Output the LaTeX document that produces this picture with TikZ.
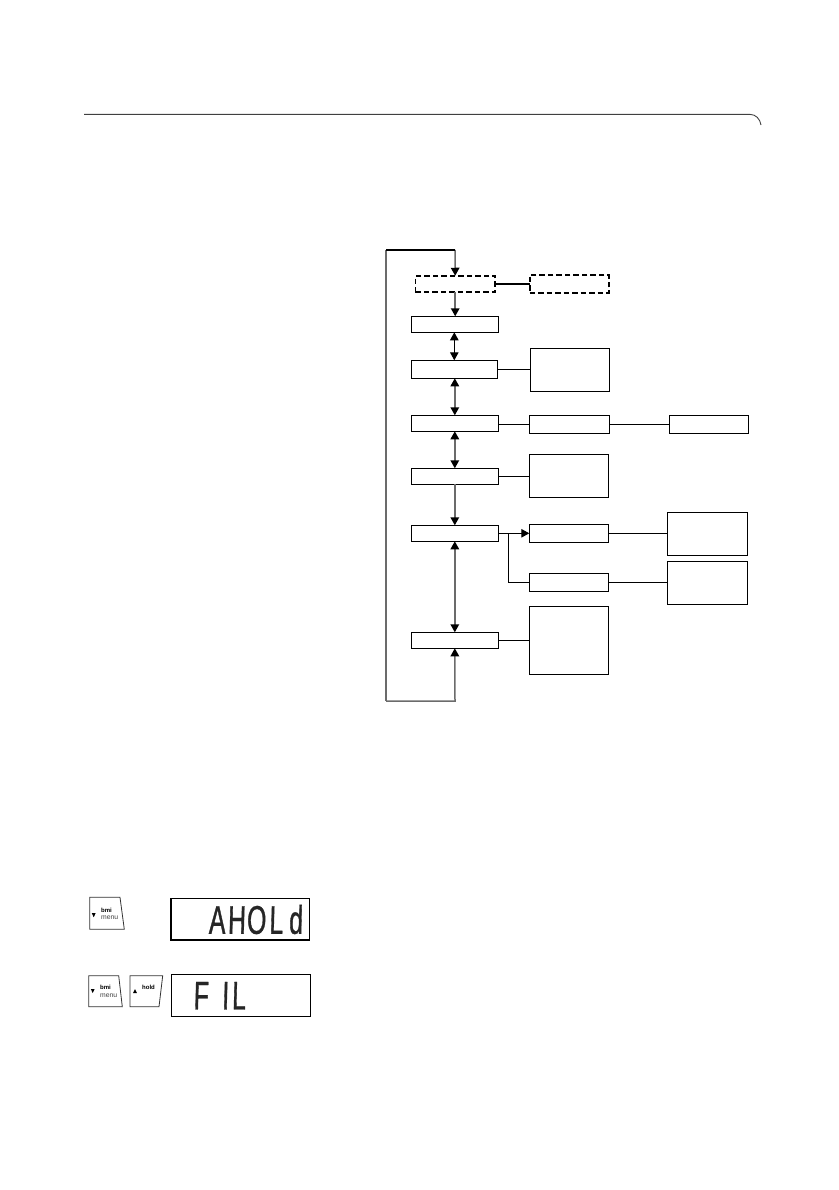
\documentclass[tikz,border=0pt]{standalone}
\usepackage{fontspec}
\setmainfont{Liberation Sans}
\newfontfamily\lcdfont[FakeStretch=0.62,FakeSlant=0.025,FakeBold=0.8]{Liberation Sans}
\usetikzlibrary{arrows.meta,calc}
\newcommand\lcdcell[1]{\makebox[19.7pt]{#1}}
\tikzset{
  x=1pt,y=-1pt,
  box/.style={draw=black,line width=1pt,fill=white,inner sep=0pt,outer sep=0pt},
  dashbox/.style={box,line width=1.7pt,dash pattern=on 5.5pt off 3pt},
  link/.style={draw=black,line width=1pt},
  heavy/.style={draw=black,line width=1.7pt},
  flow/.style={draw=black!58,line width=1.5pt},
  tip/.style={-{Triangle[width=8.5pt,length=8pt,color=black]}},
  both/.style={{Triangle[width=8.5pt,length=8pt,color=black]}-{Triangle[width=8.5pt,length=8pt,color=black]}},
  keycap/.style={draw=black!80,line width=0.8pt,fill=white},
  lcd/.style={draw=black,line width=1.4pt,fill=white,inner sep=0pt,outer sep=0pt},
  keybold/.style={font=\fontsize{6}{7}\selectfont\bfseries,inner sep=0pt,anchor=west},
  keythin/.style={font=\fontsize{6.8}{7}\selectfont,text=black!75,inner sep=0pt,anchor=west},
  lcdtext/.style={font=\fontsize{40}{40}\selectfont\lcdfont,inner sep=0pt,anchor=west,text=black!85},
}
\begin{document}
\begin{tikzpicture}
\useasboundingbox (0,0) rectangle (838,1190);
% header rule
\draw[draw=black!75,line width=0.9pt] (84,114.4) -- (750,114.4) .. controls (756,114.4) and (760,119) .. (761,125);
% flow boxes, left column
\node[dashbox,minimum width=79.7,minimum height=16.3] (d1) at (455.2,283.9) {};
\node[dashbox,minimum width=79,minimum height=18.6] (d2) at (569.2,284) {};
\node[box,minimum width=87,minimum height=16] (b1) at (454.8,324.3) {};
\node[box,minimum width=86,minimum height=18] (b2) at (454.3,369.3) {};
\node[box,minimum width=87,minimum height=16] (b3) at (454.8,423.3) {};
\node[box,minimum width=87,minimum height=16] (b4) at (454.8,476.3) {};
\node[box,minimum width=87,minimum height=16] (b5) at (454.8,533.3) {};
\node[box,minimum width=87,minimum height=16] (b6) at (454.8,640.3) {};
% right columns
\node[box,minimum width=79,minimum height=43] (r2) at (569.8,369.8) {};
\node[box,minimum width=80,minimum height=18] (r3) at (569.3,424.3) {};
\node[box,minimum width=79.4,minimum height=18] (rr3) at (709,424.3) {};
\node[box,minimum width=79.4,minimum height=43] (r4) at (569,475.8) {};
\node[box,minimum width=79.4,minimum height=18] (r5a) at (569,533.3) {};
\node[box,minimum width=79.4,minimum height=18] (r5b) at (569,582.3) {};
\node[box,minimum width=80.4,minimum height=43] (rr5a) at (707.5,533.8) {};
\node[box,minimum width=80.4,minimum height=43] (rr5b) at (707.5,582.8) {};
\node[box,minimum width=79.4,minimum height=68] (r6) at (569,640.3) {};
% loop corners and branch point
\coordinate (tl) at (386,250);
\coordinate (tr) at (455,250);
\coordinate (bl) at (386,701);
\coordinate (br) at (455,701);
\coordinate (fork) at (508.3,533.3);
% loop
\draw[flow,tip] (tr) -- (d1.north);
\draw[flow,tip] (bl) -- (br) -- (b6.south);
\draw[flow] (tl) -- (bl);
\draw[heavy] (tl) -- (tr);
% vertical flow
\draw[flow,tip] (d1.south) -- (d1.south |- b1.north);
\draw[link,both] (b1.south -| b2.north) -- (b2.north);
\draw[flow,both] (b2.south -| b3.north) -- (b3.north);
\draw[flow,both] (b3.south) -- (b4.north);
\draw[flow,tip] (b4.south) -- (b5.north);
\draw[flow,both] (b5.south) -- (b6.north);
% horizontal links
\draw[heavy] (d1.east) -- (d1.east -| d2.west);
\draw[link] (b2.east) -- (b2.east -| r2.west);
\draw[link] (r3.west -| b3.east) -- (r3.west);
\draw[link] (r3.east) -- (rr3.west);
\draw[link] (b4.east) -- (b4.east -| r4.west);
\draw[link,tip] (b5.east) -- (r5a.west);
\draw[link] (fork) |- (r5b.west);
\draw[link] (r5a.east) -- (r5a.east -| rr5a.west);
\draw[link] (r5b.east) -- (r5b.east -| rr5b.west);
\draw[link] (b6.east) -- (r6.west);
% keys, upper row
\draw[keycap] (89.7,897.3) -- (120,897.3) -- (124.3,929.3) -- (89.7,929.3) -- cycle;
\fill (91.8,913.2) -- (95.6,913.2) -- (93.7,917.2) -- cycle;
\node[keybold] (k1a) at (101,910) {bmi};
\node[keythin] (k1b) at (101,918) {menu};
% display 1
\node[lcd,minimum width=138.3,minimum height=41.3] (lcd1) at (240.2,919.3) {};
\node[lcdtext] (t1) at (207,919.5) {\lcdcell{A}\lcdcell{H}\lcdcell{O}\lcdcell{L}\lcdcell{d}};
% keys, lower row
\draw[keycap] (88.7,975.7) -- (118.7,975.7) -- (122.3,1006.7) -- (88.7,1006.7) -- cycle;
\fill (90.8,989) -- (94.6,989) -- (92.7,993) -- cycle;
\node[keybold] (k2a) at (100,987.7) {bmi};
\node[keythin] (k2b) at (100,995.7) {menu};
\draw[keycap] (130,975.7) -- (162.7,975.7) -- (159,1006.7) -- (130,1006.7) -- cycle;
\fill (133.1,993) -- (136.9,993) -- (135,989) -- cycle;
\node[keybold] (k3a) at (142,987.7) {hold};
% display 2
\node[lcd,minimum width=138.6,minimum height=41.6] (lcd2) at (241,995.5) {};
\node[lcdtext] (t2) at (191,995.7) {\lcdcell{F}\makebox[18pt][r]{I}\makebox[19.7pt][l]{\hspace{3pt}L}};
\end{tikzpicture}
\end{document}
